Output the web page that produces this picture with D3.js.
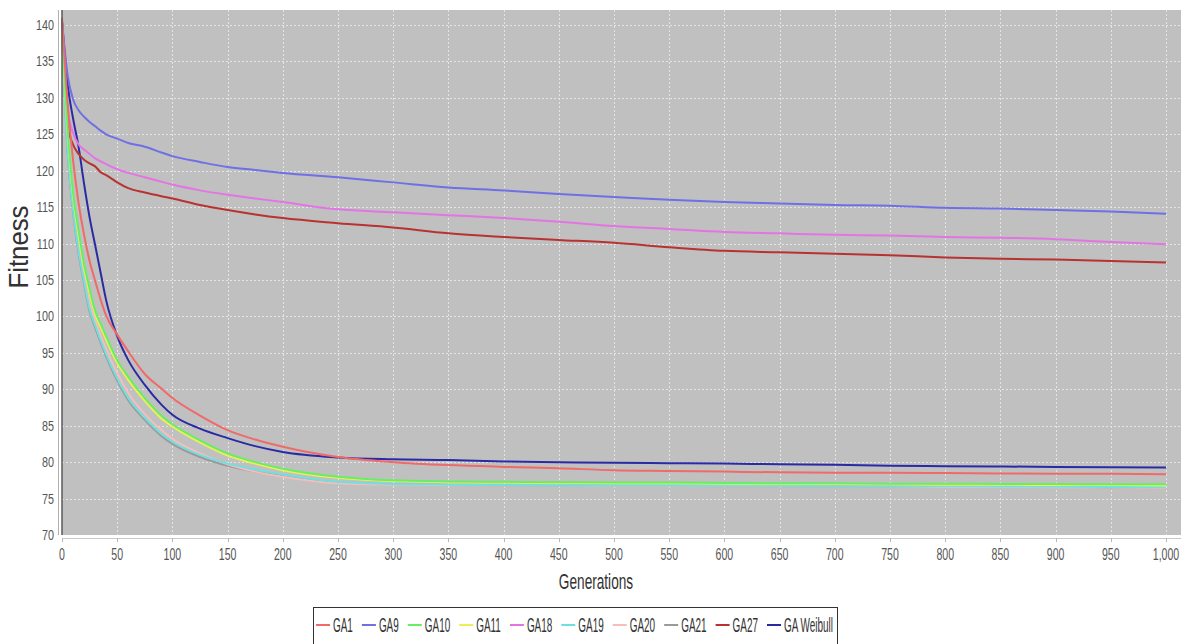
<!DOCTYPE html>
<html><head><meta charset="utf-8">
<script src="https://cdn.jsdelivr.net/npm/d3@7"></script>
<style>body{margin:0;background:#fff}svg{display:block}</style>
</head><body>
<svg id="c" width="1181" height="644"></svg>
<script>
// ---------------- data ----------------
const generations = [0,5,10,15,20,25,30,35,40,50,60,75,90,100,125,150,175,200,250,300,350,400,450,500,550,600,650,700,750,800,850,900,950,1000];
const seriesNames = ["GA1","GA9","GA10","GA11","GA18","GA19","GA20","GA21","GA27","GA Weibull"];
const GA1  = [141,129.5,121.5,115.6,111.2,107.6,104.9,102.3,100.1,97.5,95.2,92.1,90.1,88.8,86.4,84.4,83.1,82.1,80.7,80.0,79.6,79.35,79.15,78.9,78.8,78.7,78.6,78.55,78.55,78.5,78.45,78.4,78.4,78.35];
const GA9  = [140.5,133.2,129.8,128.3,127.4,126.7,126.1,125.5,125.0,124.4,123.8,123.3,122.5,122.0,121.2,120.5,120.1,119.7,119.1,118.4,117.7,117.3,116.8,116.4,116.0,115.7,115.5,115.3,115.2,114.9,114.8,114.6,114.4,114.1];
const GA10 = [140,126,117,111.8,107.2,103.8,100.8,99.0,97.3,94.0,91.7,88.8,86.4,85.2,83.0,81.2,80.0,79.1,78.0,77.5,77.35,77.3,77.25,77.2,77.2,77.15,77.1,77.1,77.05,77.05,77.0,77.0,76.95,76.95];
const GA11 = [139.5,125.5,116.5,111.2,106.6,103.2,100.3,98.5,96.8,93.6,91.3,88.4,86.0,84.9,82.7,80.9,79.8,78.9,77.85,77.4,77.25,77.2,77.15,77.1,77.1,77.05,77.0,77.0,76.95,76.9,76.9,76.85,76.85,76.8];
const GA18 = [140.5,128.5,125.2,123.6,122.9,122.3,121.7,121.3,120.9,120.2,119.7,119.1,118.5,118.1,117.3,116.7,116.2,115.7,114.7,114.3,113.9,113.5,113.0,112.4,112.0,111.6,111.4,111.2,111.1,110.9,110.8,110.6,110.2,109.9];
const GA19 = [139,123,114.7,109,104.8,101,98.8,96.7,94.8,91.5,88.8,86.1,83.9,82.8,81.0,79.8,79.0,78.3,77.3,77.0,76.9,76.85,76.8,76.8,76.8,76.75,76.75,76.7,76.7,76.7,76.65,76.65,76.6,76.6];
const GA20 = [139.5,124,115.5,109.8,105.5,101.8,99.5,97.4,95.5,92.2,89.5,86.6,84.4,83.2,81.2,79.7,78.7,78.0,77.1,76.9,76.85,76.8,76.8,76.75,76.75,76.7,76.7,76.65,76.65,76.6,76.6,76.55,76.55,76.5];
const GA21 = [138.8,122.7,114.4,108.7,104.5,100.7,98.5,96.4,94.5,91.2,88.5,85.8,83.6,82.5,80.7,79.5,78.7,78.1,77.2,76.95,76.85,76.8,76.75,76.75,76.75,76.7,76.7,76.65,76.65,76.65,76.6,76.6,76.55,76.55];
const GA27 = [140.5,126.3,123.6,122.3,121.5,121.0,120.6,119.8,119.4,118.4,117.6,117.0,116.5,116.2,115.3,114.6,114.0,113.5,112.8,112.2,111.4,110.9,110.5,110.1,109.5,109.0,108.8,108.6,108.4,108.1,107.9,107.8,107.6,107.4];
const GAWeibull = [140.5,132,127.2,123.3,118.2,113.6,109.8,106,102.2,97.3,94.0,90.6,87.9,86.5,84.6,83.3,82.2,81.4,80.65,80.4,80.3,80.1,80.0,79.9,79.85,79.8,79.7,79.65,79.5,79.45,79.4,79.35,79.3,79.25];
const seriesValues = [GA1,GA9,GA10,GA11,GA18,GA19,GA20,GA21,GA27,GAWeibull];
const xTicks = d3.range(0, 1001, 50);
const yTicks = d3.range(70, 141, 5);
const xTitle = "Generations";
const yTitle = "Fitness";

// ---------------- style ----------------
const colors = ["#f06a6a","#6f6fe6","#66ee66","#eeee55","#e374e3","#6ee0e0","#f7bcbc","#9a9a9a","#b83232","#2a2aa6"];
const FONT = "'Liberation Sans', Arial, sans-serif";

const svg = d3.select("#c");
const x = d3.scaleLinear().domain([0, 1000]).range([62, 1166]);
const y = d3.scaleLinear().domain([70, 140]).range([535, 25]);
const plotL = 62, plotR = 1181, plotT = 10, plotB = 535;

svg.append("rect").attr("width", 1181).attr("height", 644).attr("fill", "#fff");
svg.append("rect").attr("x", plotL).attr("y", plotT)
  .attr("width", plotR - plotL).attr("height", plotB - plotT).attr("fill", "#c0c0c0");

// grid
const grid = svg.append("g").attr("stroke", "#e4e4e4").attr("stroke-width", 1).attr("stroke-dasharray", "2,2");
grid.selectAll("line.v").data(xTicks.filter(d => d > 0)).join("line")
  .attr("x1", d => Math.round(x(d)) + 0.5).attr("x2", d => Math.round(x(d)) + 0.5)
  .attr("y1", plotT).attr("y2", plotB);
grid.selectAll("line.h").data(yTicks.filter(d => d > 70)).join("line")
  .attr("y1", d => Math.round(y(d)) + 0.5).attr("y2", d => Math.round(y(d)) + 0.5)
  .attr("x1", plotL).attr("x2", plotR);

// lines (JFreeChart-like reverse rendering order: first series on top)
const line = d3.line().x((d, i) => x(generations[i])).y(d => y(d)).curve(d3.curveMonotoneX);
const order = d3.range(seriesValues.length).reverse();
svg.append("g").selectAll("path").data(order).join("path")
  .attr("d", i => line(seriesValues[i]))
  .attr("fill", "none").attr("stroke", i => colors[i])
  .attr("stroke-width", 2).attr("stroke-linejoin", "round");

// left axis lines
svg.append("line").attr("x1", 62).attr("x2", 62).attr("y1", plotT).attr("y2", plotB)
  .attr("stroke", "#5a5a5a").attr("stroke-width", 1.5);
svg.append("line").attr("x1", 58.5).attr("x2", 58.5).attr("y1", plotT).attr("y2", plotB)
  .attr("stroke", "#b0b0b0").attr("stroke-width", 1);

// y axis labels (horizontally condensed via transform)
const yl = svg.append("g").attr("font-family", FONT).attr("font-size", 14).attr("fill", "#555");
yl.selectAll("text").data(yTicks).join("text")
  .attr("transform", d => `translate(54,${y(d)}) scale(0.77,1)`)
  .attr("dy", "0.36em").attr("text-anchor", "end")
  .text(d => d);

// x axis
svg.append("line").attr("x1", plotL).attr("x2", plotR).attr("y1", 538.5).attr("y2", 538.5)
  .attr("stroke", "#c8c8c8").attr("stroke-width", 1);
svg.append("g").attr("stroke", "#b8b8b8").selectAll("line").data(xTicks).join("line")
  .attr("x1", d => Math.round(x(d)) + 0.5).attr("x2", d => Math.round(x(d)) + 0.5)
  .attr("y1", 538).attr("y2", 542);
const fmt = d3.format(",");
const xl = svg.append("g").attr("font-family", FONT).attr("font-size", 16).attr("fill", "#555");
xl.selectAll("text").data(xTicks).join("text")
  .attr("transform", d => `translate(${x(d)},560) scale(0.66,1)`)
  .attr("text-anchor", "middle")
  .text(d => fmt(d));

// axis titles
svg.append("text").attr("transform", "translate(596,589) scale(0.62,1)").attr("text-anchor", "middle")
  .attr("font-family", FONT).attr("font-size", 22).attr("fill", "#333").text(xTitle);
svg.append("text").attr("transform", "translate(28,247) rotate(-90) scale(0.92,1)").attr("text-anchor", "middle")
  .attr("font-family", FONT).attr("font-size", 28).attr("fill", "#333").text(yTitle);

// legend
const lg = svg.append("g");
lg.append("rect").attr("x", 313.5).attr("y", 607.5).attr("width", 524).attr("height", 45)
  .attr("fill", "#fff").attr("stroke", "#333").attr("stroke-width", 1);
const dashW = 14, dashGap = 3, itemGap = 9, startX = 316, endX = 833;
const LFS = 21;
const tmp = lg.selectAll("text.tmp").data(seriesNames).join("text")
  .attr("font-family", FONT).attr("font-size", LFS).text(d => d);
const widths = [];
tmp.each(function () { widths.push(this.getComputedTextLength()); });
tmp.remove();
const k = (endX - startX - seriesNames.length * (dashW + dashGap) - (seriesNames.length - 1) * itemGap) / d3.sum(widths);
let cx = startX;
seriesNames.forEach((name, i) => {
  lg.append("line").attr("x1", cx).attr("x2", cx + dashW).attr("y1", 625).attr("y2", 625)
    .attr("stroke", colors[i]).attr("stroke-width", 2);
  lg.append("text").attr("transform", `translate(${cx + dashW + dashGap},632) scale(${k.toFixed(4)},1)`)
    .attr("font-family", FONT).attr("font-size", LFS).attr("fill", "#333").text(name);
  cx += dashW + dashGap + widths[i] * k + itemGap;
});
</script>
</body></html>
